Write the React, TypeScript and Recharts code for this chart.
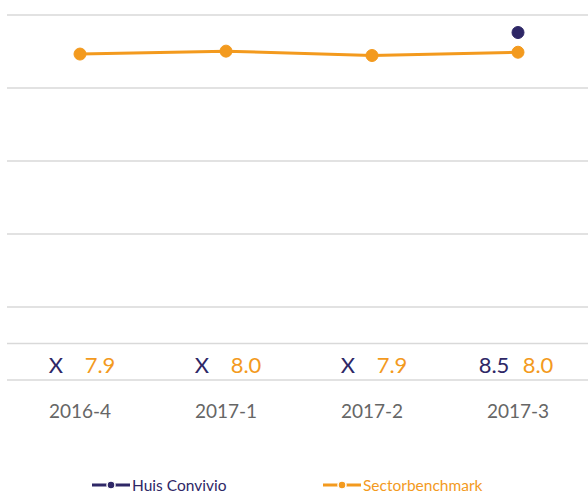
import React from "react";
import {
  LineChart,
  Line,
  XAxis,
  YAxis,
  CartesianGrid,
  ReferenceLine,
  Legend,
} from "recharts";

const periods = ["2016-4", "2017-1", "2017-2", "2017-3"];
const huisConvivio: (number | null)[] = [null, null, null, 8.52];
const sectorbenchmark = [7.93, 8.01, 7.89, 7.98];
const huisLabels = ["X", "X", "X", "8.5"];
const sectorLabels = ["7.9", "8.0", "7.9", "8.0"];
const yTicks = [-1, 1, 3, 5, 7, 9];

const PURPLE = "#2E2766";
const ORANGE = "#F39A1E";
const FONT = "Lato, 'Open Sans', sans-serif";

const data = periods.map((period, i) => ({
  period,
  huis: huisConvivio[i],
  sector: sectorbenchmark[i],
}));

function PeriodTick(props: any) {
  const { x, y, payload } = props;
  const i = payload.index;
  return (
    <g fontFamily={FONT}>
      <text x={x - 24} y={y - 16} textAnchor="middle" dominantBaseline="central" fontSize={22} fill={PURPLE}>
        {huisLabels[i]}
      </text>
      <text x={x + 20} y={y - 16} textAnchor="middle" dominantBaseline="central" fontSize={22} fill={ORANGE}>
        {sectorLabels[i]}
      </text>
      <text x={x} y={y + 30} textAnchor="middle" dominantBaseline="central" fontSize={19} fill="#666666">
        {payload.value}
      </text>
    </g>
  );
}

function LegendIcon({ color }: { color: string }) {
  return (
    <svg width={38} height={10} style={{ marginRight: 2 }}>
      <line x1={0} y1={5} x2={38} y2={5} stroke={color} strokeWidth={3} />
      <circle cx={19} cy={5} r={4} fill={color} stroke="#fff" strokeWidth={1.5} />
    </svg>
  );
}

function ChartLegend() {
  const items = [
    { name: "Huis Convivio", color: PURPLE, width: 231 },
    { name: "Sectorbenchmark", color: ORANGE, width: undefined },
  ];
  return (
    <div
      style={{
        display: "flex",
        paddingLeft: 85,
        paddingTop: 16,
        height: 17,
        fontFamily: FONT,
        fontSize: 15.5,
        lineHeight: "20px",
      }}
    >
      {items.map((it) => (
        <div key={it.name} style={{ display: "flex", alignItems: "center", color: it.color, width: it.width }}>
          <LegendIcon color={it.color} />
          {it.name}
        </div>
      ))}
    </div>
  );
}

export default function App() {
  return (
    <div style={{ position: "absolute", left: 0, top: 0, width: 588, height: 493, overflow: "hidden", background: "#fff" }}>
      <LineChart width={591} height={493} data={data} margin={{ top: 15, right: 0, left: 7, bottom: 0 }}>
        <CartesianGrid vertical={false} stroke="#D9D9D9" strokeWidth={1.5} />
        <ReferenceLine y={0} stroke="#D9D9D9" strokeWidth={1.5} />
        <YAxis hide domain={[-1, 9]} ticks={yTicks} />
        <XAxis
          dataKey="period"
          scale="band"
          axisLine={false}
          tickLine={false}
          tickSize={0}
          tickMargin={0}
          height={80}
          tick={<PeriodTick />}
          interval={0}
        />
        <Legend verticalAlign="bottom" height={33} content={<ChartLegend />} />
        <Line
          dataKey="sector"
          stroke={ORANGE}
          strokeWidth={3}
          dot={{ r: 6, fill: ORANGE, stroke: ORANGE, strokeWidth: 1 }}
          isAnimationActive={false}
        />
        <Line
          dataKey="huis"
          stroke={PURPLE}
          strokeWidth={3}
          dot={{ r: 6, fill: PURPLE, stroke: PURPLE, strokeWidth: 1 }}
          isAnimationActive={false}
        />
      </LineChart>
    </div>
  );
}
